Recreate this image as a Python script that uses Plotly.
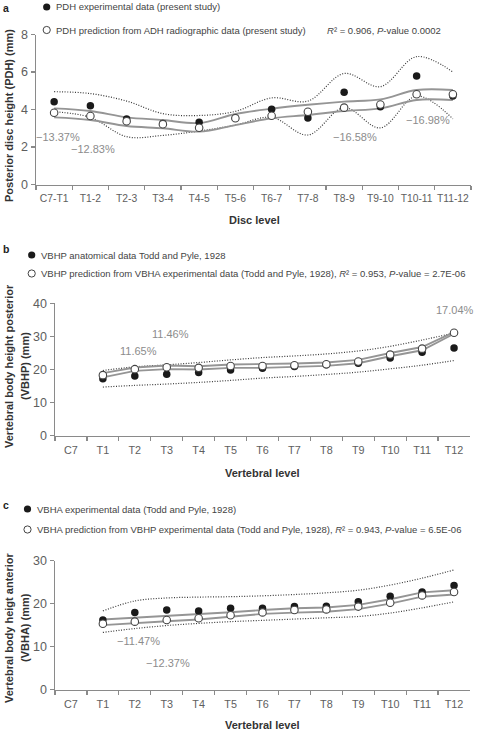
import plotly.graph_objects as go

W, H = 480, 732

# ---------------- data ----------------
a_levels = ["C7-T1", "T1-2", "T2-3", "T3-4", "T4-5", "T5-6", "T6-7", "T7-8", "T8-9", "T9-10", "T10-11", "T11-12"]
a_exp = [4.42, 4.20, 3.49, 3.25, 3.32, 3.55, 4.01, 3.55, 4.92, 4.15, 5.79, 4.72]
a_pred = [3.83, 3.65, 3.37, 3.21, 3.03, 3.53, 3.67, 3.88, 4.10, 4.27, 4.81, 4.81]
a_sol_hi = [4.06, 3.92, 3.58, 3.44, 3.28, 3.76, 4.04, 4.25, 4.42, 4.54, 5.04, 5.04]
a_sol_lo = [3.58, 3.44, 3.12, 3.00, 2.82, 3.17, 3.53, 3.71, 3.92, 4.06, 4.51, 4.50]
a_dot_hi = [4.95, 4.85, 4.45, 3.78, 3.68, 3.90, 4.62, 4.45, 5.92, 5.22, 6.82, 6.00]
a_dot_lo = [3.88, 3.58, 2.55, 2.62, 2.85, 3.17, 3.58, 2.64, 4.10, 3.02, 4.72, 3.50]
a_pct = ["\u221213.37%", "\u221212.83%", "\u221216.58%", "\u221216.98%"]

v_levels = ["C7", "T1", "T2", "T3", "T4", "T5", "T6", "T7", "T8", "T9", "T10", "T11", "T12"]
v_data_levels = v_levels[1:]

b_exp = [17.2, 18.0, 18.6, 19.1, 19.85, 20.4, 20.9, 21.4, 21.9, 23.5, 25.2, 26.5]
b_pred = [18.3, 20.1, 20.7, 20.5, 21.05, 21.06, 21.3, 21.6, 22.4, 24.5, 26.3, 31.1]
b_sol_hi = [18.9, 20.6, 21.2, 21.0, 21.5, 21.6, 21.8, 22.1, 22.9, 25.0, 26.8, 31.3]
b_sol_lo = [17.6, 19.6, 20.1, 20.0, 20.5, 20.5, 20.8, 21.1, 21.9, 24.0, 25.8, 30.8]
b_dot_hi = [19.7, 20.8, 21.4, 22.1, 22.9, 23.6, 24.1, 24.7, 25.6, 27.0, 28.9, 31.0]
b_dot_lo = [14.7, 15.2, 15.6, 16.1, 16.7, 17.4, 17.9, 18.5, 19.2, 20.2, 21.3, 22.7]
b_pct = ["11.65%", "11.46%", "17.04%"]

c_exp = [16.2, 17.9, 18.5, 18.3, 18.9, 18.9, 19.3, 19.4, 20.4, 21.7, 22.7, 24.2]
c_pred = [15.3, 15.8, 16.2, 16.6, 17.3, 17.95, 18.5, 18.65, 19.3, 20.2, 21.9, 22.7]
c_sol_hi = [16.3, 16.7, 17.1, 17.5, 18.0, 18.5, 18.9, 19.1, 19.7, 21.0, 22.6, 23.1]
c_sol_lo = [15.0, 15.5, 15.9, 16.3, 16.9, 17.6, 17.9, 18.1, 18.7, 20.0, 21.6, 22.1]
c_dot_hi = [18.3, 20.6, 21.3, 21.5, 21.6, 21.8, 22.1, 22.5, 23.1, 24.3, 25.9, 27.8]
c_dot_lo = [13.3, 14.2, 14.9, 15.4, 15.8, 16.1, 16.4, 16.7, 17.0, 17.8, 19.0, 20.4]
c_pct = ["\u221211.47%", "\u221212.37%"]

# ---------------- styling ----------------
FONT = "Liberation Sans, Arial, sans-serif"
AXC = "#8a8a8a"
TXT = "#5e5e5e"
TITLE = "#333333"
PCT = "#8c8c8c"
SOLID = "#959595"
DOT = "#3a3a3a"


def px(x):
    return x / W


def py(y):
    return 1 - y / H


fig = go.Figure()


def add_panel(xa, ya, xs, exp, pred, hi, lo, dhi, dlo, shape_solid, shape_dot):
    for arr in (dhi, dlo):
        fig.add_trace(go.Scatter(x=xs, y=arr, mode="lines", xaxis=xa, yaxis=ya,
                                 line=dict(color=DOT, width=1.2, dash="1px,1.6px", shape=shape_dot, smoothing=1.0),
                                 hoverinfo="skip"))
    for arr in (hi, lo):
        fig.add_trace(go.Scatter(x=xs, y=arr, mode="lines", xaxis=xa, yaxis=ya,
                                 line=dict(color=SOLID, width=1.9, shape=shape_solid, smoothing=1.0),
                                 hoverinfo="skip"))
    fig.add_trace(go.Scatter(x=xs, y=exp, mode="markers", xaxis=xa, yaxis=ya,
                             marker=dict(size=7.5, color="#1a1a1a", line=dict(width=0))))
    fig.add_trace(go.Scatter(x=xs, y=pred, mode="markers", xaxis=xa, yaxis=ya,
                             marker=dict(size=7.5, color="white", line=dict(width=1.1, color="#444444"))))


add_panel("x", "y", a_levels, a_exp, a_pred, a_sol_hi, a_sol_lo, a_dot_hi, a_dot_lo, "spline", "spline")
add_panel("x2", "y2", v_data_levels, b_exp, b_pred, b_sol_hi, b_sol_lo, b_dot_hi, b_dot_lo, "linear", "spline")
add_panel("x3", "y3", v_data_levels, c_exp, c_pred, c_sol_hi, c_sol_lo, c_dot_hi, c_dot_lo, "linear", "spline")


def xaxis_cfg(x0, x1, y_anchor, cats, fsize):
    n = len(cats)
    return dict(domain=[px(x0), px(x1)], anchor=y_anchor, type="category",
                categoryorder="array", categoryarray=cats, automargin=False,
                range=[-0.5, n - 0.5], tickson="boundaries", ticks="outside", ticklen=4,
                tickcolor=AXC, tickwidth=1.2, tickangle=0,
                showline=True, linecolor=AXC, linewidth=1.5, showgrid=False, zeroline=False,
                tickfont=dict(family=FONT, size=fsize, color=TXT), ticklabelstandoff=4, fixedrange=True)


def yaxis_cfg(y_top, y_bot, x_anchor, rmax, dtick):
    return dict(domain=[py(y_bot), py(y_top)], anchor=x_anchor, range=[0, rmax], dtick=dtick,
                tick0=0, ticks="outside", ticklen=4, tickcolor=AXC, tickwidth=1.2, automargin=False,
                showline=True, linecolor=AXC, linewidth=1.5, showgrid=False, zeroline=False,
                tickfont=dict(family=FONT, size=12.5, color=TXT), fixedrange=True)


layout = dict(
    width=W, height=H, margin=dict(l=0, r=0, t=0, b=0, pad=0, autoexpand=False),
    paper_bgcolor="white", plot_bgcolor="white", showlegend=False,
    xaxis=xaxis_cfg(36, 471, "y", a_levels, 10.3),
    yaxis=yaxis_cfg(34.5, 184.5, "x", 8, 2),
    xaxis2=xaxis_cfg(55, 470, "y2", v_levels, 10.8),
    yaxis2=yaxis_cfg(303.3, 435.7, "x2", 40, 10),
    xaxis3=xaxis_cfg(55, 470, "y3", v_levels, 10.8),
    yaxis3=yaxis_cfg(560.5, 689.7, "x3", 30, 10),
)
fig.update_layout(**layout)

ann = []


def text(x, y, s, size=9.5, color="#444444", xanchor="left", bold=False, angle=0):
    if bold:
        s = "<b>" + s + "</b>"
    ann.append(dict(x=px(x), y=py(y), xref="paper", yref="paper", text=s, showarrow=False,
                    xanchor=xanchor, yanchor="middle", textangle=angle,
                    font=dict(family=FONT, size=size, color=color)))


# panel letters
text(1, 8, "a", size=10.5, color="#222222", bold=True)
text(1, 249, "b", size=10.5, color="#222222", bold=True)
text(1, 505, "c", size=10.5, color="#222222", bold=True)

# legends
shapes = []


def dot(cx, cy, filled):
    r = 3.6
    shapes.append(dict(type="circle", xref="paper", yref="paper",
                       x0=px(cx - r), x1=px(cx + r), y0=py(cy + r), y1=py(cy - r),
                       fillcolor="#1a1a1a" if filled else "white",
                       line=dict(color="#1a1a1a" if filled else "#444444", width=0 if filled else 1)))


dot(46.7, 7, True)
text(54, 7, "PDH experimental data (present study)")
dot(46.7, 30, False)
text(54, 30, "PDH prediction from ADH radiographic data (present study)")
text(325, 30, "<i>R</i>² = 0.906, <i>P</i>-value 0.0002")

dot(31.7, 255, True)
text(39, 255, "VBHP anatomical data Todd and Pyle, 1928")
dot(31.7, 273.5, False)
text(39, 273.5, "VBHP prediction from VBHA experimental data (Todd and Pyle, 1928), <i>R</i>² = 0.953, <i>P</i>-value = 2.7E-06")

dot(27.5, 509, True)
text(35, 509, "VBHA experimental data (Todd and Pyle, 1928)")
dot(27.5, 529.5, False)
text(35, 529.5, "VBHA prediction from VBHP experimental data (Todd and Pyle, 1928), <i>R</i>² = 0.943, <i>P</i>-value = 6.5E-06")

# percentage labels
text(58, 137.5, a_pct[0], size=11, color=PCT, xanchor="center")
text(93, 149.5, a_pct[1], size=11, color=PCT, xanchor="center")
text(355, 136.5, a_pct[2], size=11, color=PCT, xanchor="center")
text(428, 120, a_pct[3], size=11, color=PCT, xanchor="center")

text(138, 351.5, b_pct[0], size=11, color=PCT, xanchor="center")
text(170, 334, b_pct[1], size=11, color=PCT, xanchor="center")
text(455, 310, b_pct[2], size=11, color=PCT, xanchor="center")

text(138, 641, c_pct[0], size=11, color=PCT, xanchor="center")
text(168, 662.5, c_pct[1], size=11, color=PCT, xanchor="center")

# axis titles
text(254, 220, "Disc level", size=11, color=TITLE, xanchor="center", bold=True)
text(262, 473, "Vertebral level", size=11, color=TITLE, xanchor="center", bold=True)
text(262, 724.5, "Vertebral level", size=11, color=TITLE, xanchor="center", bold=True)

text(9, 116, "Posterior disc height (PDH) (mm)", size=11, color=TITLE, xanchor="center", bold=True, angle=-90)
text(9, 366, "Vertebral body height posterior", size=11, color=TITLE, xanchor="center", bold=True, angle=-90)
text(25, 366, "(VBHP) (mm)", size=11, color=TITLE, xanchor="center", bold=True, angle=-90)
text(9, 628, "Vertebral body heigt anterior", size=11, color=TITLE, xanchor="center", bold=True, angle=-90)
text(25, 628, "(VBHA) (mm)", size=11, color=TITLE, xanchor="center", bold=True, angle=-90)

fig.update_layout(annotations=ann, shapes=shapes)
fig.write_html("out.html", config={"displayModeBar": False, "staticPlot": True},
               post_script="document.body.style.margin='0px';document.body.style.overflow='hidden';")
